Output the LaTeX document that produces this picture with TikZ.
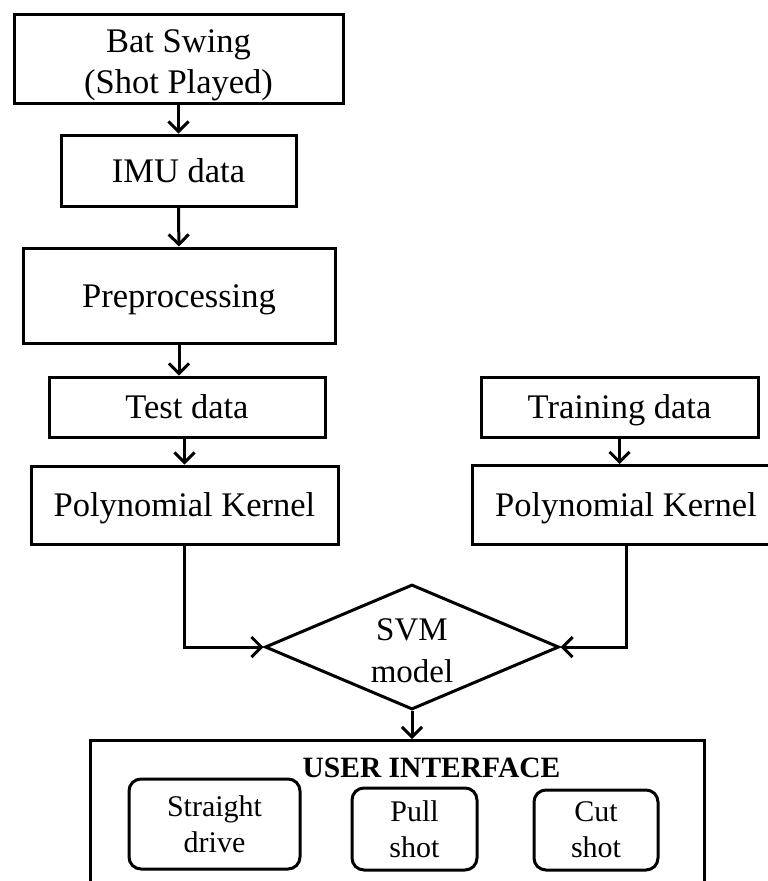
\documentclass[tikz,border=0pt]{standalone}
\usepackage{fontspec}
\setmainfont{Liberation Serif}
\usetikzlibrary{arrows.meta,shapes.geometric}
\begin{document}
\begin{tikzpicture}[x=1pt,y=-1pt,
  box/.style={draw, line width=3pt, inner sep=0pt, align=center,
    font=\fontsize{34.5}{41}\selectfont},
  onebox/.style={box, text height=23.5pt, text depth=0pt},
  pick/.style={draw, line width=3pt, inner sep=0pt, align=center,
    rounded corners=12pt, font=\fontsize{30}{36}\selectfont},
  arr/.style={line width=3pt, -{Straight Barb[length=10pt,width=20pt]}}]
  \fill[white] (0,0) rectangle (768,881);
  \useasboundingbox (0,0) rectangle (768,881);
  \clip (0,0) rectangle (768,881);

  % left processing chain
  \node[box, minimum width=329pt, minimum height=89pt] (bat) at (178.5,58.5)
    {\rule{0pt}{36pt}Bat Swing\\(Shot Played)};
  \node[onebox, minimum width=235pt, minimum height=71pt] (imu) at (178.5,170.5) {IMU data};
  \node[onebox, minimum width=312pt, minimum height=95pt] (pre) at (179,295.5) {Preprocessing};
  \node[onebox, minimum width=276pt, minimum height=60pt] (test) at (187,407) {Test data};
  \node[onebox, minimum width=307pt, minimum height=78pt] (polyL) at (184.5,505) {Polynomial Kernel};

  % training chain
  \node[onebox, minimum width=277pt, minimum height=60pt] (train) at (619.5,407) {Training data};
  \node[onebox, minimum width=307pt, minimum height=79pt] (polyR) at (626,505) {Polynomial Kernel};

  % classifier
  \node[diamond, draw, line width=3pt, inner sep=0pt, aspect=2.35,
    minimum width=294pt, minimum height=125pt, align=center,
    font=\fontsize{33}{42}\selectfont] (svm) at (412,647) {\rule{0pt}{29pt}SVM\\model};

  % output panel
  \node[draw, line width=3pt, minimum width=614pt, minimum height=260pt,
    anchor=north, inner sep=0pt] (ui) at (397,739) {};
  \node[anchor=base, inner sep=0pt, font=\bfseries\fontsize{29.5}{35}\selectfont]
    (uititle) at (431.5,777) {USER INTERFACE};
  \node[pick, minimum width=171pt, minimum height=90pt] (straight) at (214.5,824) {Straight\\drive};
  \node[pick, minimum width=125pt, minimum height=82pt] (pull) at (414.5,829) {Pull\\shot};
  \node[pick, minimum width=124pt, minimum height=80pt] (cut) at (596,830) {Cut\\shot};

  % connectors
  \draw[arr] (bat) -- (imu);
  \draw[arr] (imu) -- (pre);
  \draw[arr] (pre.south) -- (pre.south |- test.north);
  \draw[arr] (polyL.north |- test.south) -- (polyL.north);
  \draw[arr] (train.south) -- (train.south |- polyR.north);
  \draw[arr] (polyL.south) |- (svm.west);
  \draw[arr] (polyR.south) |- (svm.east);
  \draw[arr] (svm.south) -- (svm.south |- ui.north);
\end{tikzpicture}
\end{document}
